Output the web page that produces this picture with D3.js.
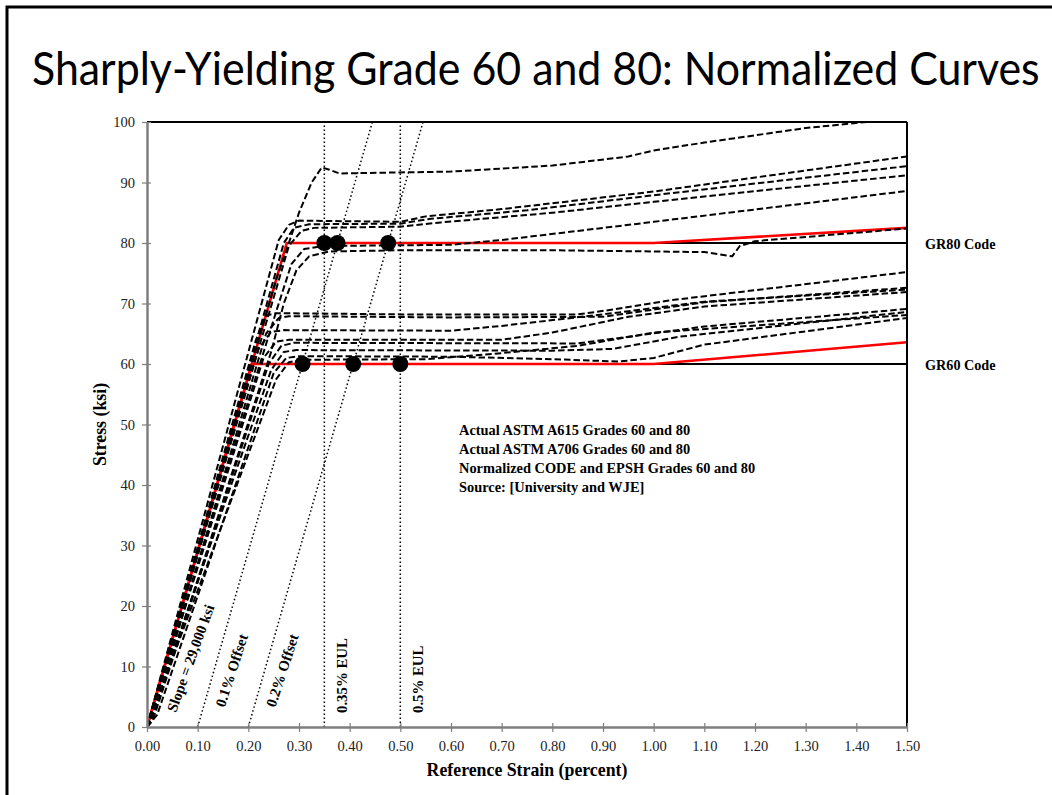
<!DOCTYPE html>
<html>
<head>
<meta charset="utf-8">
<script src="https://cdn.jsdelivr.net/npm/d3@7"></script>
<style>
  html, body { margin: 0; padding: 0; background: #fff; }
  svg { display: block; }
</style>
</head>
<body>
<svg id="chart" width="1052" height="795"></svg>
<script>
// ---- Axis ticks ----
const strainTicks = [0.00, 0.10, 0.20, 0.30, 0.40, 0.50, 0.60, 0.70, 0.80, 0.90, 1.00, 1.10, 1.20, 1.30, 1.40, 1.50];
const stressTicks = [0, 10, 20, 30, 40, 50, 60, 70, 80, 90, 100];

// ---- Code (normalized) curves ----
const codeGrades = [60, 80];
const codeLabels = ["GR60 Code", "GR80 Code"];
const codeHardeningStart = [1.0, 1.0];   // strain (%) where strain hardening begins
const codeEndStress = [63.6, 82.5];      // stress (ksi) at 1.5 % strain
const elasticModulus = 290;              // ksi per percent strain (29,000 ksi)

// ---- Yield definitions ----
const offsetStrains = [0.1, 0.2];
const offsetLabels = ["0.1% Offset", "0.2% Offset"];
const eulStrains = [0.35, 0.5];
const eulLabels = ["0.35% EUL", "0.5% EUL"];
const yieldDots60 = [0.307, 0.407, 0.5];
const yieldDots80 = [0.35, 0.376, 0.476];

// ---- Measured stress-strain curves, [strain %, stress ksi] ----
const gr80Curves = [
  [[0,0],[0.255,74],[0.28,80],[0.3,85],[0.325,90],[0.345,92.5],[0.36,92.1],[0.38,91.5],[0.6,91.8],[0.8,92.8],[0.95,94.3],[1.0,95.3],[1.1,96.6],[1.2,97.8],[1.3,99],[1.42,100],[1.5,101]],
  [[0,0],[0.26,80.5],[0.28,83],[0.3,83.7],[0.5,83.5],[0.55,84.4],[0.7,85.6],[1.0,88.5],[1.5,94.3]],
  [[0,0],[0.01,2],[0.27,80],[0.29,82.5],[0.32,83.1],[0.5,83.2],[0.56,84.0],[0.75,85.4],[1.0,87.9],[1.5,92.7]],
  [[0,0],[0.28,79.5],[0.305,82],[0.33,82.5],[0.5,82.7],[0.58,83.4],[0.8,85.0],[1.0,86.8],[1.5,91.2]],
  [[0,0],[0.26,70],[0.285,76.5],[0.31,79],[0.35,79.5],[0.6,79.7],[0.7,80.5],[0.85,82],[1.0,83.5],[1.5,88.6]],
  [[0,0],[0.01,1],[0.245,62],[0.27,70],[0.295,75.5],[0.32,77.8],[0.36,78.6],[0.5,78.8],[0.8,78.8],[1.1,78.5],[1.155,77.8],[1.17,79.5],[1.2,80.3],[1.5,82.4]]
];
const gr60Curves = [
  [[0,0],[0.215,64],[0.235,68],[0.255,68.4],[0.5,68.2],[0.85,68.2],[0.92,69],[1.03,70.5],[1.5,75.2]],
  [[0,0],[0.01,1.5],[0.235,65],[0.26,67.6],[0.28,67.9],[0.6,67.7],[0.9,67.8],[1.0,69],[1.1,70.2],[1.5,72.6]],
  [[0,0],[0.22,62.5],[0.245,65.3],[0.27,65.6],[0.6,65.5],[0.7,66.3],[0.9,68.2],[1.1,70.3],[1.5,72.3]],
  [[0,0],[0.005,1],[0.23,61],[0.255,63.7],[0.28,64.0],[0.7,64.0],[0.8,65.2],[0.95,67.8],[1.1,69.5],[1.5,71.9]],
  [[0,0],[0.015,2],[0.24,60],[0.265,63],[0.29,63.5],[0.85,63.4],[0.95,64.5],[1.1,66.2],[1.5,69.1]],
  [[0,0],[0.245,59],[0.27,62],[0.295,62.3],[0.8,62.2],[0.92,62.5],[1.05,64.5],[1.5,68.6]],
  [[0,0],[0.02,2],[0.25,58.5],[0.275,61],[0.3,61.3],[0.6,61.2],[0.8,60.8],[0.93,60.4],[1.0,61.0],[1.1,63.2],[1.5,67.6]],
  [[0,0],[0.255,57.5],[0.28,60.3],[0.31,60.7],[0.55,60.8],[0.7,61.8],[0.85,63.0],[1.0,65.2],[1.5,68.1]]
];

const notes = [
  "Actual ASTM A615 Grades 60 and 80",
  "Actual ASTM A706 Grades 60 and 80",
  "Normalized CODE and EPSH Grades 60 and 80",
  "Source: [University and WJE]"
];

const svg = d3.select("#chart");
const serif = "'Liberation Serif', 'Times New Roman', serif";

// Slide frame
svg.append("rect").attr("x", 7).attr("y", 7).attr("width", 1200).attr("height", 900)
  .attr("fill", "none").attr("stroke", "#000").attr("stroke-width", 3);

// Title, condensed horizontally to the slide width
const titleG = svg.append("g");
const title = titleG.append("text")
  .attr("x", 0).attr("y", 0)
  .attr("font-family", "Lato, 'Open Sans', sans-serif")
  .attr("font-size", 47).attr("fill", "#000")
  .text("Sharply-Yielding Grade 60 and 80: Normalized Curves");
const tw = title.node().getComputedTextLength();
titleG.attr("transform", `translate(32,85) scale(${1008 / tw},1)`);

const x = d3.scaleLinear().domain([0, 1.5]).range([147, 907]);
const y = d3.scaleLinear().domain([0, 100]).range([727, 122]);

svg.append("defs").append("clipPath").attr("id", "plotClip")
  .append("rect").attr("x", x(0)).attr("y", y(100)).attr("width", x(1.5) - x(0)).attr("height", y(0) - y(100));

const plot = svg.append("g").attr("clip-path", "url(#plotClip)");
const line = d3.line().x(d => x(d[0])).y(d => y(d[1]));

// Code lines: black horizontal at grade, red elastic-plastic-hardening curve
codeGrades.forEach(fy => {
  plot.append("path")
    .attr("d", line([[fy / elasticModulus, fy], [1.5, fy]]))
    .attr("fill", "none").attr("stroke", "#000").attr("stroke-width", 2.2);
});
codeGrades.forEach((fy, i) => {
  plot.append("path")
    .attr("d", line([[0, 0], [fy / elasticModulus, fy], [codeHardeningStart[i], fy], [1.5, codeEndStress[i]]]))
    .attr("fill", "none").attr("stroke", "#ff0000").attr("stroke-width", 2.6);
});

// Measured curves
plot.selectAll("path.test").data(gr80Curves.concat(gr60Curves)).join("path")
  .attr("class", "test")
  .attr("d", line)
  .attr("fill", "none").attr("stroke", "#000").attr("stroke-width", 2)
  .attr("stroke-linejoin", "round")
  .attr("stroke-dasharray", "6.5,3");

// Yield definition reference lines (dotted)
offsetStrains.forEach(e0 => {
  plot.append("path")
    .attr("d", line([[e0, 0], [e0 + 100 / elasticModulus, 100]]))
    .attr("fill", "none").attr("stroke", "#000").attr("stroke-width", 1.5)
    .attr("stroke-dasharray", "1.5,2.5");
});
eulStrains.forEach(e => {
  plot.append("path")
    .attr("d", line([[e, 0], [e, 100]]))
    .attr("fill", "none").attr("stroke", "#000").attr("stroke-width", 1.5)
    .attr("stroke-dasharray", "1.5,2.5");
});

// Yield points
const dots = yieldDots60.map(e => [e, 60]).concat(yieldDots80.map(e => [e, 80]));
svg.selectAll("circle.yield").data(dots).join("circle")
  .attr("class", "yield")
  .attr("cx", d => x(d[0])).attr("cy", d => y(d[1])).attr("r", 8)
  .attr("fill", "#000");

// Plot frame: gray left/bottom axes, black top/right
svg.append("line").attr("x1", x(0)).attr("x2", x(1.5)).attr("y1", y(100)).attr("y2", y(100))
  .attr("stroke", "#000").attr("stroke-width", 2);
svg.append("line").attr("x1", x(1.5)).attr("x2", x(1.5)).attr("y1", y(100)).attr("y2", y(0))
  .attr("stroke", "#000").attr("stroke-width", 2);

const yAxis = d3.axisLeft(y).tickValues(stressTicks).tickFormat(d3.format("d")).tickSizeInner(5).tickSizeOuter(0).tickPadding(7);
const gy = svg.append("g").attr("transform", `translate(${x(0)},0)`).call(yAxis);
const xAxis = d3.axisBottom(x).tickValues(strainTicks).tickFormat(d3.format(".2f")).tickSizeInner(5).tickSizeOuter(0).tickPadding(9);
const gx = svg.append("g").attr("transform", `translate(0,${y(0)})`).call(xAxis);
[gx, gy].forEach(g => {
  g.select(".domain").attr("stroke", "#7f7f7f").attr("stroke-width", 2.5);
  g.selectAll(".tick line").attr("stroke", "#7f7f7f").attr("stroke-width", 1.2);
  g.selectAll(".tick text").attr("font-family", serif).attr("font-size", 14.5).attr("fill", "#222");
});
gy.selectAll(".tick line").attr("x2", 4).attr("x1", -5);
gx.selectAll(".tick line").attr("y1", -4).attr("y2", 5);

// Axis titles
svg.append("text").attr("x", (x(0) + x(1.5)) / 2).attr("y", 776)
  .attr("text-anchor", "middle").attr("font-family", serif).attr("font-weight", "bold").attr("font-size", 17.8)
  .text("Reference Strain (percent)");
svg.append("text").attr("transform", `translate(106,${y(50)}) rotate(-90)`)
  .attr("text-anchor", "middle").attr("font-family", serif).attr("font-weight", "bold").attr("font-size", 17.8)
  .text("Stress (ksi)");

// Code labels
codeGrades.forEach((fy, i) => {
  svg.append("text").attr("x", 925).attr("y", y(fy) + 5.5)
    .attr("font-family", serif).attr("font-weight", "bold").attr("font-size", 14.2)
    .text(codeLabels[i]);
});

// Notes block
svg.append("g").selectAll("text").data(notes).join("text")
  .attr("x", 459).attr("y", (d, i) => 435 + i * 19)
  .attr("font-family", serif).attr("font-weight", "bold").attr("font-size", 14.4)
  .text(d => d);

// Rotated labels along reference lines
const slopeAngle = -Math.atan((y(0) - y(100)) / (x(100 / elasticModulus) - x(0))) * 180 / Math.PI;
function rotatedLabel(px, py, angle, txt) {
  svg.append("text").attr("transform", `translate(${px},${py}) rotate(${angle})`)
    .attr("font-family", serif).attr("font-weight", "bold").attr("font-size", 14.8)
    .text(txt);
}
rotatedLabel(176, 713, -70, "Slope = 29,000 ksi");
offsetStrains.forEach((e0, i) => rotatedLabel(x(e0) + 27, 708, slopeAngle + 2, offsetLabels[i]));
eulStrains.forEach((e, i) => rotatedLabel(x(e) + 23, 713, -90, eulLabels[i]));
</script>
</body>
</html>
